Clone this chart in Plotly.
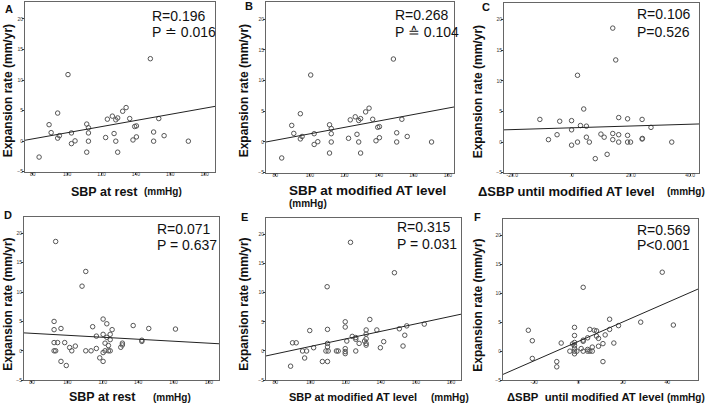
import plotly.graph_objects as go

W, H = 709, 410

# panels A and B show the same points
ab_sbp = [83.7, 89.5, 90.7, 94.5, 94.5, 95.5, 100.5, 102.5, 102.5, 104.6, 111.4, 111.4,
          112.4, 112.4, 112.4, 122.4, 123.4, 126.3, 127.3, 128.3, 128.3, 129.4, 129.4,
          132.3, 134.3, 136.4, 138.3, 139.3, 140.3, 140.3, 148.4, 150.3, 150.3, 153.3,
          156.4, 170.5]
ab_rate = [-2.6, 2.7, 1.4, 4.6, 0.5, 0.9, 10.9, 1.35, -0.4, 0.05, 2.8, -1.8,
           2.2, 1.35, 0.0, 0.6, 3.6, 4.1, 1.25, 3.5, 0.0, 3.8, -1.8,
           4.9, 5.5, 3.7, 0.2, 2.4, 2.5, 0.7, 13.5, 1.5, 0.0, 3.7,
           0.9, 0.0]

c_dsbp = [-10.7, -7.8, -4.9, -4.0, 0.0, 0.0, 0.0, 2.0, 2.0, 3.0, 4.1, 5.0, 5.0, 6.0,
          9.9, 11.0, 12.0, 8.0, 13.9, 13.9, 13.9, 14.9, 15.9, 15.9, 15.9, 18.9, 18.9,
          18.9, 19.9, 23.8, 23.8, 23.9, 26.8, 33.8]
c_rate = [3.7, 0.4, 1.2, 3.4, 3.5, 2.0, -0.5, 10.9, 0.0, 2.7, 5.4, 2.6, 0.8, 0.0,
          1.3, 0.8, -2.0, -2.7, 18.6, 1.4, 0.4, 13.4, 4.0, 1.2, 0.0, 3.8, 1.1,
          0.0, 0.0, 3.7, 0.5, 0.6, 2.4, 0.0]

d_sbp = [93.4, 110.4, 108.3, 92.5, 92.5, 96.4, 92.5, 94.5, 98.5, 92.5, 93.4, 96.4,
         99.4, 101.3, 102.5, 104.5, 110.4, 113.4, 114.3, 116.4, 116.4, 118.3, 120.2,
         120.2, 120.2, 120.2, 121.3, 121.3, 122.3, 122.3, 123.2, 123.2, 124.2, 124.2,
         124.2, 125.3, 130.2, 131.1, 131.1, 137.2, 142.1, 142.1, 146.0, 161.1]
d_rate = [18.6, 13.5, 11.0, 5.0, 3.6, 3.8, 1.4, 1.4, 1.4, 0.0, 0.0, -1.8,
          -2.5, 0.56, 0.0, 0.8, 0.0, 0.0, 4.1, 2.5, 0.4, -1.2, 5.4,
          2.8, -0.3, -1.8, 1.3, 0.0, 4.6, 2.3, 0.9, 0.0, 2.8, 1.9,
          0.0, 3.6, 0.6, 1.3, 1.0, 4.3, 1.8, 1.6, 3.8, 3.7]

e_sbp = [88.7, 89.8, 91.9, 95.5, 97.8, 96.7, 99.6, 101.8, 106.8, 109.5, 109.7, 109.7,
         109.7, 108.8, 110.1, 109.7, 114.8, 115.8, 119.8, 119.8, 119.8, 119.8, 119.8,
         122.8, 120.7, 123.8, 125.8, 125.8, 125.8, 127.7, 130.8, 131.7, 131.7, 131.7,
         131.7, 131.7, 133.8, 137.8, 139.8, 141.7, 147.8, 150.6, 152.7, 153.7, 154.8,
         164.8]
e_rate = [-2.6, 1.4, 1.4, 0.0, 0.0, -1.2, 3.5, 0.56, -1.8, 11.0, 3.7, 1.3,
          0.7, 0.0, 0.0, -1.8, 0.0, 0.0, 5.0, 4.1, 0.4, -0.1, -0.45,
          18.6, 1.7, 2.5, 2.0, 2.3, 0.0, 1.3, 1.7, 3.6, 2.9, 2.1,
          1.3, 1.0, 5.4, 3.6, 0.56, 1.6, 13.4, 3.8, 0.85, 2.7, 4.3,
          4.6]

f_dsbp = [-22.6, -20.8, -20.8, -9.8, -9.8, -7.8, -3.9, -2.7, -1.8, -1.8, -1.8, -1.8,
          -1.8, -1.8, -1.8, -0.75, 1.2, 2.1, 2.1, 2.1, 2.1, 4.1, 4.1, 4.1, 5.1, 5.1,
          6.2, 6.2, 7.1, 8.1, 8.1, 9.0, 9.0, 11.0, 11.0, 12.0, 14.0, 14.0, 15.9, 18.0,
          28.0, 37.7, 42.7]
f_rate = [3.6, 1.8, -1.25, -1.8, -2.7, 1.4, 0.0, 1.25, 4.1, 2.7, 1.5, 1.0,
          0.5, 0.0, -0.45, 0.0, 0.45, 11.0, 1.7, 1.9, 0.0, 2.3, 0.3, 0.0, 3.75, 0.0,
          0.0, 0.7, 3.6, 3.5, 2.6, 2.2, 0.85, 1.3, -1.8, 2.8, 5.5, 3.75, 1.4, 4.4,
          5.0, 13.6, 4.5]

# regression lines (intercept, slope)
fit_a = (-3.64, 0.0502)
fit_b = (-3.90, 0.0523)
fit_c = (2.33, 0.0146)
fit_d = (4.32, -0.0168)
fit_e = (-5.66, 0.0644)
fit_f = (1.69, 0.1674)

r_text = ["R=0.196", "R=0.268", "R=0.106", "R=0.071", "R=0.315", "R=0.569"]
p_text = ["P ≐ 0.016", "P ≙ 0.104", "P=0.526", "P = 0.637", "P = 0.031", "P<0.001"]
letters = ["A", "B", "C", "D", "E", "F"]

NB = "\u00a0"
x_main = ["SBP at rest", "SBP at modified AT level", "ΔSBP until modified AT level",
          "SBP at rest", "SBP at modified AT level", "ΔSBP" + NB + NB + "until modified AT level"]
x_unit = "(mmHg)"

x_ticks = [
    ([80, 100, 120, 140, 160, 180], ["80", "100", "120", "140", "160", "180"]),
    ([80, 100, 120, 140, 160, 180], ["80", "100", "120", "140", "160", "180"]),
    ([-20, 0, 20, 40], ["-20.0", ".0", "20.0", "40.0"]),
    ([80, 100, 120, 140, 160, 180], ["80", "100", "120", "140", "160", "180"]),
    ([80, 100, 120, 140, 160, 180], ["80", "100", "120", "140", "160", "180"]),
    ([-20, 0, 20, 40], ["-20", "0", "20", "40"]),
]
y_ticks = [-5, 0, 5, 10, 15, 20]

series = [(ab_sbp, ab_rate, fit_a), (ab_sbp, ab_rate, fit_b), (c_dsbp, c_rate, fit_c),
          (d_sbp, d_rate, fit_d), (e_sbp, e_rate, fit_e), (f_dsbp, f_rate, fit_f)]

# layout in pixels: box left, right, top, bottom; x range
boxes = [
    (25, 215, 2.5, 173, (75.5, 186)),
    (266, 454, 2.5, 174, (74.6, 183.5)),
    (504, 699, 3, 174, (-22.8, 43)),
    (24, 219, 219, 383, (75.5, 185.7)),
    (266, 461, 220, 383, (74.7, 185.7)),
    (503, 698, 221, 383, (-34, 53.8)),
]
# text positions in pixels
stat_pos = [(151, 16, 32), (394, 15, 32), (636, 14, 32),
            (156, 231, 247), (396, 229, 246), (636, 232, 247)]
letter_pos = [(9, 9), (249, 6), (486, 7), (8, 217), (244, 219), (478, 219)]
ytitle_pos = [(8, 92), (244, 92), (478, 92), (8, 307), (244, 307), (478, 307)]
# main title (left, y, size), unit (x, y, anchor)
xtitle_pos = [((70, 193, 12.5), (143, 193, "left")), ((288, 192, 13.5), (288, 205, "left")),
              ((477, 193, 13), (706, 193, "right")), ((68, 400, 12.5), (152, 400, "left")),
              ((288, 400, 11), (430, 400, "left")), ((506, 400, 11.3), (706, 400, "right"))]


def px(x):
    return x / W


def py(y):
    return 1 - y / H


FONT = "Arial, Liberation Sans, sans-serif"
fig = go.Figure()
annotations = []


def note(text, x, y, size, anchor="left", angle=0):
    annotations.append(dict(
        text=text, xref="paper", yref="paper", x=px(x), y=py(y),
        xanchor=anchor, yanchor="middle", textangle=angle, showarrow=False,
        borderpad=0, font=dict(size=size, color="#111", family=FONT)))


for i, ((xs, ys, (b0, b1)), (l, r, t, b, xr)) in enumerate(zip(series, boxes)):
    n = "" if i == 0 else str(i + 1)
    xa, ya = "x" + n, "y" + n
    fig.add_trace(go.Scatter(
        x=xs, y=ys, mode="markers", xaxis=xa, yaxis=ya,
        marker=dict(symbol="circle-open", size=4.5, color="#555", line=dict(width=1)),
        showlegend=False, hoverinfo="skip"))
    fig.add_trace(go.Scatter(
        x=list(xr), y=[b0 + b1 * xr[0], b0 + b1 * xr[1]], mode="lines",
        xaxis=xa, yaxis=ya, line=dict(color="#222", width=1),
        showlegend=False, hoverinfo="skip"))

    fig.layout["xaxis" + n] = dict(
        domain=[px(l), px(r)], range=list(xr), anchor=ya,
        tickvals=x_ticks[i][0], ticktext=x_ticks[i][1],
        ticks="outside", ticklen=2, tickcolor="#333", ticklabelstandoff=-5,
        tickfont=dict(size=5, color="#333", family=FONT),
        showline=True, mirror=True, linecolor="#666", linewidth=1,
        showgrid=False, zeroline=False)
    fig.layout["yaxis" + n] = dict(
        domain=[py(b), py(t)], range=[-5, 22.7], anchor=xa,
        tickvals=y_ticks, ticks="outside", ticklen=2, tickcolor="#333", ticklabelstandoff=-2,
        tickfont=dict(size=5, color="#333", family=FONT),
        showline=True, mirror=True, linecolor="#666", linewidth=1,
        showgrid=False, zeroline=False)

    sx, ry, pyy = stat_pos[i]
    note(r_text[i], sx, ry, 14)
    note(p_text[i], sx, pyy, 14)
    lx, ly = letter_pos[i]
    note("<b>" + letters[i] + "</b>", lx, ly, 11, anchor="center")
    tx, ty = ytitle_pos[i]
    note("<b>Expansion rate (mm/yr)</b>", tx, ty, 12, anchor="center", angle=-90)
    (mx, my, ms), (ux, uy, ua) = xtitle_pos[i]
    note("<b>" + x_main[i] + "</b>", mx, my, ms)
    note("<b>" + x_unit + "</b>", ux, uy, 10, anchor=ua)

fig.update_layout(
    width=W, height=H,
    margin=dict(l=0, r=0, t=0, b=0),
    paper_bgcolor="white", plot_bgcolor="white",
    annotations=annotations,
)

# the page body has a default 8px margin; drop it so the figure fills the window
fig.write_html("out.html", config={"displayModeBar": False},
               post_script="document.body.style.margin = '0';")
